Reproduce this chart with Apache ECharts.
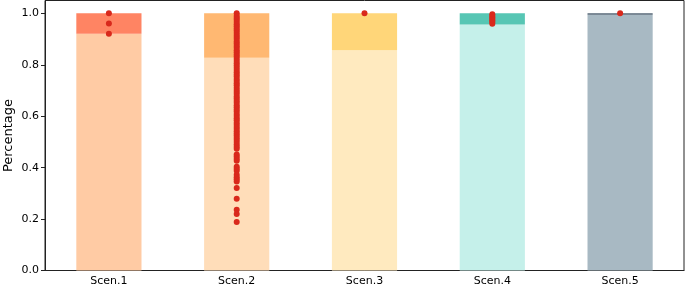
<!DOCTYPE html>
<html lang="en">
<head>
    <meta charset="UTF-8">
    <title>Scenario percentage</title>
    <script src="https://cdn.jsdelivr.net/npm/echarts@6/dist/echarts.min.js"></script>
    <style>
        html, body { margin: 0; padding: 0; background: #fff; }
        #main { width: 685px; height: 287px; }
    </style>
</head>
<body>
<div id="main"></div>
<script>
    // categories and stacked shares
    var scenarios = ['Scen.1', 'Scen.2', 'Scen.3', 'Scen.4', 'Scen.5'];
    var baseShare = [0.921, 0.827, 0.857, 0.957, 0.995];
    var topShare = [0.079, 0.173, 0.143, 0.043, 0.005];
    var yTicks = [0, 0.2, 0.4, 0.6, 0.8, 1.0];

    // red points per scenario
    var scen1Pts = [1.0, 0.961, 0.921];
    var scen2Pts = [1.0, 0.99, 0.982, 0.975, 0.966, 0.958, 0.95, 0.941, 0.933, 0.925,
        0.916, 0.908, 0.9, 0.891, 0.883, 0.874, 0.866, 0.857, 0.849, 0.84,
        0.832, 0.823, 0.815, 0.806, 0.797, 0.788, 0.78, 0.771, 0.762, 0.754,
        0.745, 0.737, 0.728, 0.72, 0.711, 0.702, 0.694, 0.686, 0.677, 0.669,
        0.66, 0.652, 0.643, 0.635, 0.626, 0.618, 0.609, 0.601, 0.592, 0.584,
        0.575, 0.567, 0.558, 0.55, 0.542, 0.533, 0.525, 0.516, 0.508, 0.5,
        0.49, 0.481, 0.473, 0.451, 0.443, 0.435, 0.427, 0.403, 0.396, 0.388,
        0.372, 0.363, 0.355, 0.346, 0.321, 0.279, 0.236, 0.22, 0.189];
    var scen3Pts = [1.0];
    var scen4Pts = [0.997, 0.99, 0.984, 0.978, 0.972, 0.966, 0.96];
    var scen5Pts = [1.0];

    var baseColors = ['#FFCBA4', '#FFDDB9', '#FFEABF', '#C5F0EA', '#A8B9C3'];
    var topColors = ['#FF8463', '#FFB872', '#FFD679', '#57C6B4', '#546676'];

    var allPts = [scen1Pts, scen2Pts, scen3Pts, scen4Pts, scen5Pts];
    var scatterData = [];
    allPts.forEach(function (arr, i) {
        arr.forEach(function (v) { scatterData.push([i, v]); });
    });

    var myChart = echarts.init(document.getElementById('main'), null, {renderer: 'canvas'});
    var font = 'DejaVu Sans';
    var option = {
        animation: false,
        grid: {
            left: 45, right: 1, top: 0.5, bottom: 16.5,
            outerBoundsMode: 'none',
            containLabel: false,
            show: true, borderColor: '#222', borderWidth: 1, backgroundColor: 'transparent'
        },
        xAxis: {
            type: 'category',
            data: scenarios,
            axisLine: {lineStyle: {color: '#222', width: 1}},
            axisTick: {alignWithLabel: true, length: 4, lineStyle: {color: '#222'}},
            axisLabel: {color: '#000', fontFamily: font, fontSize: 11, margin: 5}
        },
        yAxis: {
            type: 'value',
            min: 0,
            max: 1.05,
            interval: 0.2,
            name: 'Percentage',
            nameLocation: 'middle',
            nameGap: 30,
            nameMoveOverlap: false,
            nameTextStyle: {color: '#000', fontFamily: font, fontSize: 13},
            splitLine: {show: false},
            axisLine: {show: true, lineStyle: {color: '#222', width: 1}},
            axisTick: {show: true, length: 4, lineStyle: {color: '#222'}},
            axisLabel: {
                color: '#000', fontFamily: font, fontSize: 11, margin: 6,
                showMaxLabel: false,
                formatter: function (v) { return yTicks.indexOf(v) >= 0 || v === 0 ? v.toFixed(1) : ''; }
            }
        },
        series: [
            {
                type: 'bar',
                stack: 'share',
                barWidth: '51%',
                data: baseShare.map(function (v, i) { return {value: v, itemStyle: {color: baseColors[i]}}; })
            },
            {
                type: 'bar',
                stack: 'share',
                barWidth: '51%',
                data: topShare.map(function (v, i) { return {value: v, itemStyle: {color: topColors[i]}}; })
            },
            {
                type: 'scatter',
                symbolSize: 6,
                itemStyle: {color: '#D9291C', opacity: 1},
                data: scatterData,
                z: 5
            }
        ]
    };
    myChart.setOption(option);
</script>
</body>
</html>
